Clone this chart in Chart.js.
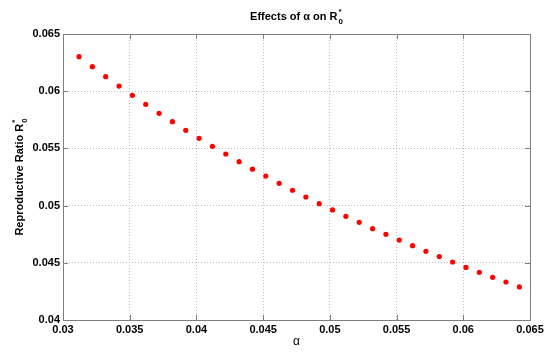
<!DOCTYPE html>
<html>
<head>
<meta charset="utf-8">
<script src="https://cdn.jsdelivr.net/npm/chart.js@4"></script>
<style>
  html, body { margin: 0; padding: 0; background: #fff; }
  #wrap { width: 550px; height: 353px; }
</style>
</head>
<body>
<div id="wrap"><canvas id="chart" width="550" height="353"></canvas></div>
<script>
// alpha values (x) and the reproductive ratio R0* (y)
const alphaValues = [
  0.0312, 0.0322, 0.0332, 0.0342, 0.0352, 0.0362, 0.0372, 0.0382, 0.0392, 0.0402,
  0.0412, 0.0422, 0.0432, 0.0442, 0.0452, 0.0462, 0.0472, 0.0482, 0.0492, 0.0502,
  0.0512, 0.0522, 0.0532, 0.0542, 0.0552, 0.0562, 0.0572, 0.0582, 0.0592, 0.0602,
  0.0612, 0.0622, 0.0632, 0.0642
]
const r0Values = [
  0.06302, 0.06214, 0.06127, 0.06045, 0.05964, 0.05885, 0.05807, 0.05734, 0.05658, 0.05588,
  0.05518, 0.05451, 0.05384, 0.05318, 0.05258, 0.05195, 0.05134, 0.05075, 0.05017, 0.04962,
  0.04906, 0.04854, 0.04798, 0.04749, 0.04699, 0.04650, 0.04600, 0.04554, 0.04507, 0.04460,
  0.04417, 0.04373, 0.04332, 0.04289
]
const xTicks = [0.03, 0.035, 0.04, 0.045, 0.05, 0.055, 0.06, 0.065]
const yTicks = [0.04, 0.045, 0.05, 0.055, 0.06, 0.065]

const FONT = '"Liberation Sans", Arial, Helvetica, sans-serif'
const BOX_COLOR = '#7f7f7f'

// draw "base" + stacked subscript/superscript, centred on (0,0) of the current transform
function drawRich(ctx, base, sub, sup, size) {
  ctx.font = 'bold ' + size + 'px ' + FONT
  let wBase = ctx.measureText(base).width
  ctx.font = 'bold ' + (size * 0.72) + 'px ' + FONT
  let wScript = Math.max(ctx.measureText(sub).width, ctx.measureText(sup).width)
  let start = -(wBase + wScript + 1) / 2
  ctx.textBaseline = 'middle'
  ctx.textAlign = 'left'
  ctx.fillStyle = '#000'
  ctx.font = 'bold ' + size + 'px ' + FONT
  ctx.fillText(base, start, 0)
  ctx.font = 'bold ' + (size * 0.72) + 'px ' + FONT
  ctx.fillText(sub, start + wBase + 1, size * 0.42)
  ctx.fillText(sup, start + wBase + 1, -size * 0.45)
}

const framePlugin = {
  id: 'frame',
  afterDraw(chart) {
    const ctx = chart.ctx
    const a = chart.chartArea
    const xs = chart.scales.x
    const ys = chart.scales.y
    ctx.save()
    // box
    ctx.strokeStyle = BOX_COLOR
    ctx.lineWidth = 1
    ctx.strokeRect(Math.round(a.left) + 0.5, Math.round(a.top) + 0.5,
      Math.round(a.right - a.left), Math.round(a.bottom - a.top))
    // inward tick marks on all four sides
    ctx.beginPath()
    const tl = 5
    xTicks.forEach(v => {
      let px = Math.round(xs.getPixelForValue(v)) + 0.5
      ctx.moveTo(px, a.bottom); ctx.lineTo(px, a.bottom - tl)
      ctx.moveTo(px, a.top); ctx.lineTo(px, a.top + tl)
    })
    yTicks.forEach(v => {
      let py = Math.round(ys.getPixelForValue(v)) + 0.5
      ctx.moveTo(a.left, py); ctx.lineTo(a.left + tl, py)
      ctx.moveTo(a.right, py); ctx.lineTo(a.right - tl, py)
    })
    ctx.stroke()

    // chart title
    ctx.save()
    ctx.translate((a.left + a.right) / 2, 17)
    drawRich(ctx, 'Effects of \u03b1 on R', '0', '*', 11)
    ctx.restore()

    // y axis title
    ctx.save()
    ctx.translate(20, (a.top + a.bottom) / 2)
    ctx.rotate(-Math.PI / 2)
    drawRich(ctx, 'Reproductive Ratio R', '0', '*', 11)
    ctx.restore()

    // x axis title
    ctx.fillStyle = '#000'
    ctx.font = '12px ' + FONT
    ctx.textAlign = 'center'
    ctx.textBaseline = 'middle'
    ctx.fillText('\u03b1', (a.left + a.right) / 2, 342)
    ctx.restore()
  }
}

const points = alphaValues.map((x, i) => ({ x: x, y: r0Values[i] }))

// grid lines are hidden at the edges, the frame plugin draws the box there
const gridColor = n => ctx => (ctx.index === 0 || ctx.index === n - 1) ? 'rgba(0,0,0,0)' : '#bdbdbd'

new Chart(document.getElementById('chart'), {
  type: 'scatter',
  data: {
    datasets: [{
      data: points,
      pointRadius: 2.6,
      pointBackgroundColor: '#ff0000',
      pointBorderWidth: 0,
      pointHoverRadius: 2.6
    }]
  },
  options: {
    responsive: false,
    animation: false,
    devicePixelRatio: 1,
    layout: { padding: { top: 34, right: 20, left: 0, bottom: 0 } },
    plugins: {
      legend: { display: false },
      tooltip: { enabled: false },
      title: { display: false }
    },
    scales: {
      x: {
        type: 'linear',
        min: 0.03,
        max: 0.065,
        afterFit: s => { s.height = 33 },
        afterBuildTicks: s => { s.ticks = xTicks.map(v => ({ value: v })) },
        border: { display: false, dash: [1, 2] },
        grid: { color: gridColor(xTicks.length), lineWidth: 1, drawTicks: false },
        ticks: {
          padding: 3,
          maxRotation: 0,
          color: '#000',
          font: { family: FONT, size: 11, weight: 'bold' },
          callback: v => String(+v.toFixed(3))
        }
      },
      y: {
        type: 'linear',
        min: 0.04,
        max: 0.065,
        afterFit: s => { s.width = 63 },
        afterBuildTicks: s => { s.ticks = yTicks.map(v => ({ value: v })) },
        border: { display: false, dash: [1, 2] },
        grid: { color: gridColor(yTicks.length), lineWidth: 1, drawTicks: false },
        ticks: {
          padding: 3,
          color: '#000',
          font: { family: FONT, size: 11, weight: 'bold' },
          callback: v => String(+v.toFixed(3))
        }
      }
    }
  },
  plugins: [framePlugin]
})
</script>
</body>
</html>
